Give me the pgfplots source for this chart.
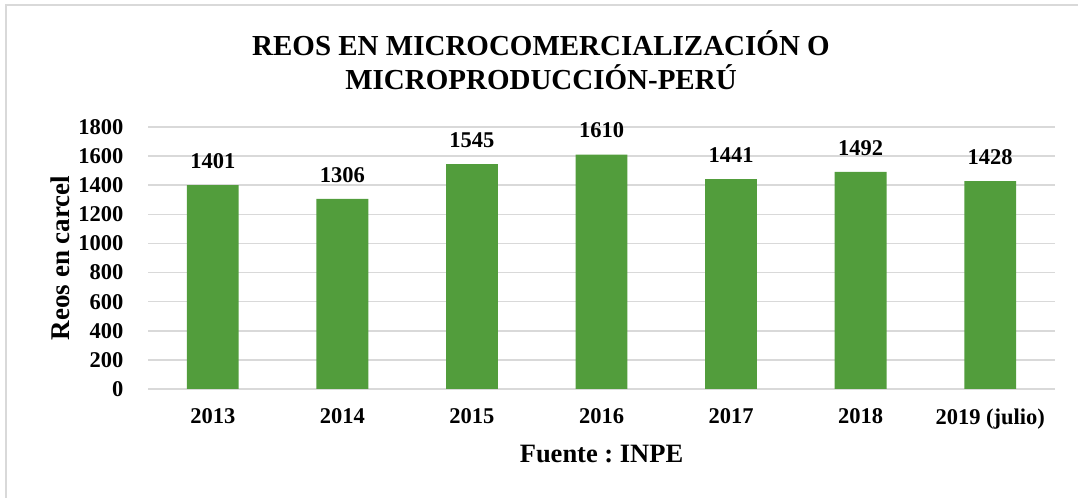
\documentclass[border=0pt]{standalone}
\usepackage{pgfplots}
\pgfplotsset{compat=1.18}
\usepackage{fontspec}
\setmainfont{Liberation Serif}
\definecolor{barg}{HTML}{529D3C}
\definecolor{gridg}{HTML}{D9D9D9}
\begin{document}
\begin{tikzpicture}[x=1bp,y=1bp]
\useasboundingbox (0,0) rectangle (1078,498);
\draw[gridg, line width=1.8bp] (6,-20) rectangle (1100,493);
\node[font=\fontsize{29bp}{34bp}\selectfont\bfseries, align=center] at (541,438) {REOS EN MICROCOMERCIALIZACIÓN O\\MICROPRODUCCIÓN-PERÚ};
\begin{axis}[
  at={(148bp,109bp)}, anchor=south west,
  scale only axis, width=907bp, height=262bp,
  xmin=-0.5, xmax=6.5, ymin=0, ymax=1800,
  ytick={0,200,...,1800},
  xtick={0,...,6},
  xticklabels={2013,2014,2015,2016,2017,2018,2019 (julio)},
  axis line style={draw=none},
  axis x line*=bottom, axis y line*=left,
  major tick length=0pt,
  ymajorgrids, grid style={gridg, line width=1.5bp},
  /pgf/number format/assume math mode=true,
  /pgf/number format/1000 sep={},
  tick label style={font=\fontsize{22.5bp}{26bp}\selectfont\bfseries},
  yticklabel style={xshift=-21bp},
  xticklabel style={yshift=-16bp},
  ylabel={Reos en carcel},
  ylabel style={font=\fontsize{27bp}{30bp}\selectfont\bfseries, at={(axis description cs:-0.097,0.5)}, anchor=center},
  xlabel={\frenchspacing Fuente : INPE},
  xlabel style={font=\fontsize{26.5bp}{30bp}\selectfont\bfseries, at={(axis description cs:0.5,-0.248)}, anchor=center},
  clip=false,
]
\addplot[ybar, bar width=0.4, fill=barg, draw=none,
  nodes near coords, nodes near coords style={font=\fontsize{22.5bp}{26bp}\selectfont\bfseries, yshift=13bp, /pgf/number format/1000 sep={}},
  point meta=explicit] coordinates {
(0,1401) [1401] (1,1306) [1306] (2,1545) [1545] (3,1610) [1610] (4,1441) [1441] (5,1492) [1492] (6,1428) [1428]};
\end{axis}
\end{tikzpicture}
\end{document}
